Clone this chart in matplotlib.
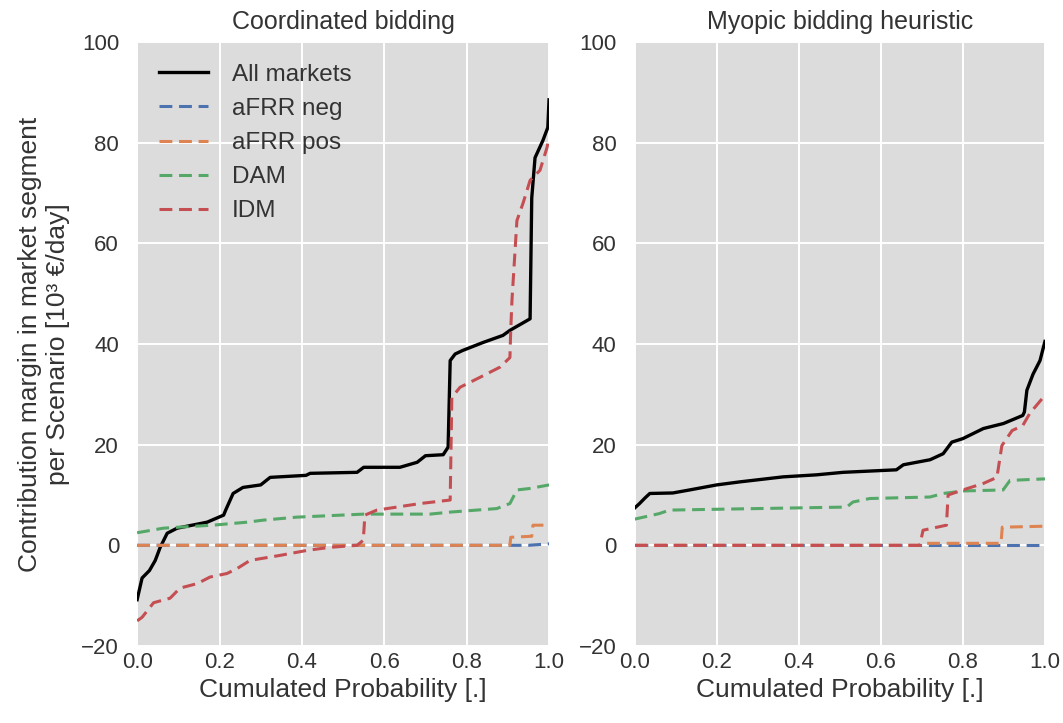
import matplotlib.pyplot as plt

# cumulated probability knots and values [10^3 EUR/day]
coord_all_p = [0.0, 0.012, 0.03, 0.044, 0.056, 0.073, 0.097, 0.17, 0.21, 0.215, 0.233, 0.257, 0.3, 0.323,
               0.41, 0.42, 0.534, 0.55, 0.638, 0.68, 0.70, 0.743, 0.755, 0.76, 0.772, 0.79, 0.84, 0.888,
               0.905, 0.954, 0.958, 0.966, 0.985, 0.997, 1.0]
coord_all_v = [-10.8, -6.5, -5.0, -3.0, -0.4, 2.4, 3.4, 4.6, 6.0, 7.0, 10.3, 11.5, 12.0, 13.5,
               13.9, 14.3, 14.5, 15.5, 15.5, 16.5, 17.8, 18.0, 19.5, 36.7, 38.0, 38.7, 40.3, 41.7,
               42.7, 45.0, 69.0, 77.0, 80.4, 83.0, 88.5]
coord_idm_p = [0.0, 0.012, 0.04, 0.08, 0.104, 0.146, 0.177, 0.218, 0.243, 0.274, 0.347, 0.413, 0.468, 0.534,
               0.549, 0.553, 0.582, 0.631, 0.687, 0.76, 0.764, 0.784, 0.833, 0.881, 0.905, 0.907, 0.91,
               0.922, 0.937, 0.954, 0.978, 0.995, 1.0]
coord_idm_v = [-15.0, -14.3, -11.4, -10.5, -8.5, -7.6, -6.3, -5.6, -4.6, -3.0, -2.0, -1.0, -0.4, 0.0,
               1.0, 6.0, 7.0, 7.6, 8.3, 9.0, 29.4, 31.4, 33.4, 35.4, 37.3, 42.7, 48.7,
               64.5, 68.0, 72.5, 74.5, 79.0, 81.0]
coord_dam_p = [0.0, 0.063, 0.1, 0.184, 0.267, 0.306, 0.388, 0.55, 0.711, 0.76, 0.873, 0.905, 0.922, 0.954, 1.0]
coord_dam_v = [2.5, 3.4, 3.6, 4.0, 4.6, 5.0, 5.6, 6.2, 6.2, 6.6, 7.3, 8.3, 11.0, 11.3, 12.0]
coord_pos_p = [0.0, 0.905, 0.907, 0.958, 0.961, 1.0]
coord_pos_v = [0.0, 0.0, 1.6, 1.8, 4.0, 4.0]
coord_neg_p = [0.0, 0.95, 1.0]
coord_neg_v = [0.0, 0.0, 0.3]

myop_all_p = [0.0, 0.012, 0.024, 0.037, 0.093, 0.134, 0.2, 0.256, 0.362, 0.443, 0.508, 0.638, 0.655,
              0.72, 0.752, 0.773, 0.8, 0.85, 0.899, 0.946, 0.95, 0.956, 0.971, 0.988, 1.0]
myop_all_v = [7.4, 8.3, 9.3, 10.3, 10.4, 11.0, 12.0, 12.6, 13.6, 14.0, 14.5, 15.0, 16.0,
              17.0, 18.2, 20.5, 21.2, 23.2, 24.2, 25.8, 26.5, 30.8, 34.0, 36.7, 40.5]
myop_idm_p = [0.0, 0.695, 0.703, 0.76, 0.764, 0.8, 0.85, 0.883, 0.895, 0.92, 0.946, 0.963, 1.0]
myop_idm_v = [0.0, 0.0, 3.0, 4.0, 10.0, 11.0, 12.3, 13.5, 19.8, 22.8, 23.8, 26.2, 29.8]
myop_dam_p = [0.0, 0.06, 0.085, 0.298, 0.517, 0.532, 0.573, 0.72, 0.752, 0.8, 0.898, 0.915, 1.0]
myop_dam_v = [5.2, 6.3, 7.0, 7.3, 7.6, 8.6, 9.3, 9.6, 10.3, 10.8, 11.0, 12.9, 13.2]
myop_pos_p = [0.0, 0.695, 0.70, 0.893, 0.896, 1.0]
myop_pos_v = [0.0, 0.0, 0.4, 0.4, 3.6, 3.8]
myop_neg_p = [0.0, 1.0]
myop_neg_v = [0.0, 0.0]

titles = ["Coordinated bidding", "Myopic bidding heuristic"]
labels = ["All markets", "aFRR neg", "aFRR pos", "DAM", "IDM"]
colors = ["black", "#4C72B0", "#DD8452", "#55A868", "#C44E52"]

panels = [
    [(coord_all_p, coord_all_v), (coord_neg_p, coord_neg_v), (coord_pos_p, coord_pos_v),
     (coord_dam_p, coord_dam_v), (coord_idm_p, coord_idm_v)],
    [(myop_all_p, myop_all_v), (myop_neg_p, myop_neg_v), (myop_pos_p, myop_pos_v),
     (myop_dam_p, myop_dam_v), (myop_idm_p, myop_idm_v)],
]

plt.rcParams['font.family'] = ['Liberation Sans', 'DejaVu Sans']
txt = "#333333"

fig = plt.figure(figsize=(10.63, 7.23), dpi=100)
ax1 = fig.add_axes([0.129, 0.1065, 0.3875, 0.8355])
ax2 = fig.add_axes([0.597, 0.1065, 0.386, 0.8355])

for ax, title, series in zip([ax1, ax2], titles, panels):
    ax.set_facecolor("#dcdcdc")
    for s in ax.spines.values():
        s.set_visible(False)
    ax.grid(True, color="white", lw=1.4)
    ax.set_axisbelow(True)
    for (p, v), lab, c in zip(series, labels, colors):
        if lab == "All markets":
            ax.plot(p, v, "-", color=c, lw=2.4, label=lab)
        else:
            ax.plot(p, v, "--", color=c, lw=2.2, dashes=(4.2, 2.2), label=lab)
    ax.set_xlim(0, 1)
    ax.set_ylim(-20, 100)
    ax.set_xticks([0, 0.2, 0.4, 0.6, 0.8, 1.0])
    ax.set_yticks([-20, 0, 20, 40, 60, 80, 100])
    ax.tick_params(axis="y", length=0, pad=13, colors=txt, labelsize=16)
    ax.tick_params(axis="x", length=0, pad=4, colors=txt, labelsize=16)
    ax.set_title(title, fontsize=18, color=txt, pad=9)
    ax.set_xlabel("Cumulated Probability [.]", fontsize=19, color=txt, labelpad=4)

ax1.set_ylabel("Contribution margin in market segment\nper Scenario [10³ €/day]",
               fontsize=19, color=txt, labelpad=8)
ax1.legend(loc="upper left", frameon=False, fontsize=17.5, handlelength=2.0,
           handletextpad=1.0, labelspacing=0.5, borderaxespad=0.5, labelcolor=txt)

plt.savefig("out.png", dpi=100)
